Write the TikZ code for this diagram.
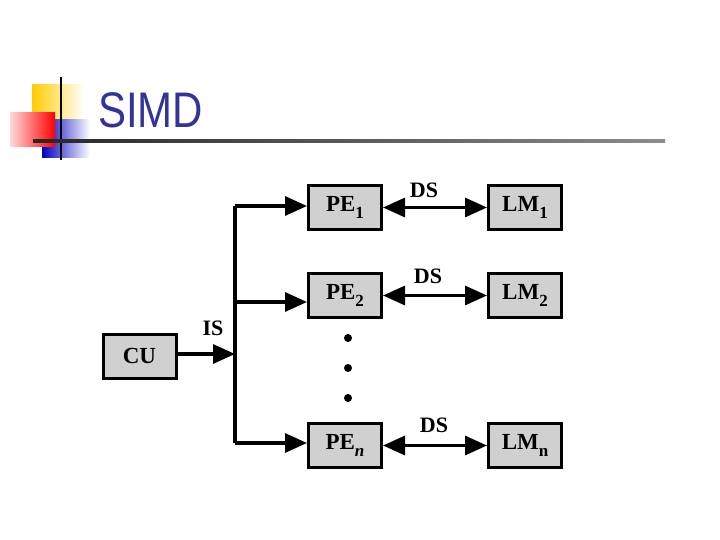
\documentclass[tikz,border=0pt]{standalone}
\usepackage{fontspec}
\setmainfont{Liberation Serif}
\newfontfamily\titlefont{Liberation Sans}
\usetikzlibrary{arrows.meta}
\definecolor{boxgray}{RGB}{208,208,208}
\definecolor{titleblue}{RGB}{51,51,153}
\definecolor{logoyellow}{RGB}{255,204,0}
\tikzset{
  unit/.style={draw=black, line width=3pt, fill=boxgray, minimum width=73pt, minimum height=44pt, inner sep=0pt, font=\fontsize{23}{23}\selectfont\bfseries},
  conn/.style={line width=3.2pt},
  tip/.style={-{Triangle[length=22pt,width=19pt]}},
  dtip/.style={{Triangle[length=22pt,width=19pt]}-{Triangle[length=22pt,width=19pt]}},
  lbl/.style={font=\fontsize{22}{22}\selectfont\bfseries, inner sep=0pt}
}
\newcommand{\subs}[1]{\raisebox{-0.3em}{\fontsize{17}{17}\selectfont #1}}
\begin{document}
\begin{tikzpicture}[x=1pt,y=-1pt]
\useasboundingbox (0,0) rectangle (720,540);
% logo
\shade[left color=logoyellow, right color=white] (32,85) rectangle (84,122);
\shade[left color=blue!75!black, right color=white] (42,120) rectangle (90,158);
\shade[left color=red!15, right color=red] (10,113) rectangle (55,147);
\draw[line width=2pt, black] (61,77) -- (61,160);
\shade[left color=black!85, right color=black!45] (33,140) rectangle (665,142.5);
\node[anchor=base west, inner sep=0pt, text=titleblue] (title) at (98,128)
  {\scalebox{0.84}[1]{\titlefont\fontsize{50}{50}\selectfont SIMD}};
% boxes
\node[unit] (cu) at (139.5,356) {CU};
\node[unit] (pe1) at (345,207.5) {PE\subs{1}};
\node[unit] (pe2) at (345,295.5) {PE\subs{2}};
\node[unit] (pen) at (345,445.5) {PE\subs{\itshape n}};
\node[unit] (lm1) at (525,207.5) {LM\subs{1}};
\node[unit] (lm2) at (525,295.5) {LM\subs{2}};
\node[unit] (lmn) at (525,445.5) {LM\subs{n}};
% bus
\coordinate (bj) at (235,354);
\coordinate (btop) at (235,206);
\coordinate (bmid) at (235,302);
\coordinate (bbot) at (235,443);
\draw[conn] (btop) -- (bbot);
\draw[conn,tip] (cu.east |- bj) -- (bj);
\draw[conn,tip] (btop) -- (pe1.west |- btop);
\draw[conn,tip] (bmid) -- (pe2.west |- bmid);
\draw[conn,tip] (bbot) -- (pen.west |- bbot);
\node[lbl] (is) at (213,328) {IS};
% data streams
\draw[conn,dtip] (pe1.east) -- (lm1.west);
\draw[conn,dtip] (pe2.east) -- (lm2.west);
\draw[conn,dtip] (pen.east) -- (lmn.west);
\node[lbl] (ds1) at (424,190) {DS};
\node[lbl] (ds2) at (428,276) {DS};
\node[lbl] (ds3) at (434,425) {DS};
% dots
\fill (348,338) circle (4pt) (348,368) circle (4pt) (348,398) circle (4pt);
\end{tikzpicture}
\end{document}
